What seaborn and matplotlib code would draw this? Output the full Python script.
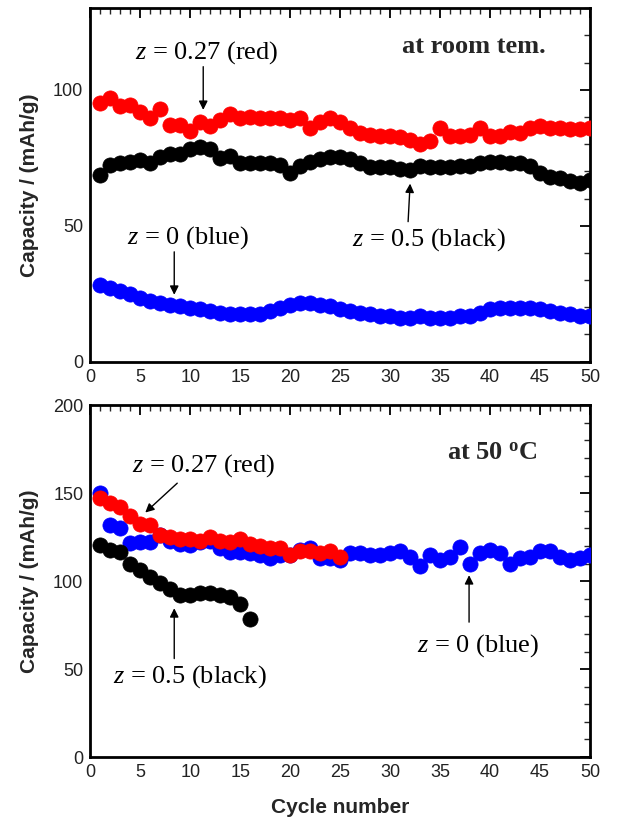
import numpy as np
import pandas as pd
import matplotlib
matplotlib.use("Agg")
import matplotlib.pyplot as plt
import seaborn as sns

# ---------------- data ----------------
cycles_rt = list(range(1, 51))
rt_red = [95, 97, 94, 94.5, 92, 89.5, 93, 87, 87, 85, 88, 86.5, 89, 91, 89.5, 90, 89.5, 89.5, 89.5, 89,
          89.5, 86, 88, 89.5, 88, 86, 84, 83.5, 83, 83, 82.5, 81.5, 80, 81, 86, 83, 83, 83.5, 86, 83,
          83, 84.5, 84, 86, 86.5, 86, 86, 85.5, 85.5, 86]
rt_black = [68.8, 72.3, 72.9, 73.5, 74, 72.9, 75.1, 76.4, 76.4, 78.2, 78.8, 78.2, 75, 75.7, 73, 73, 73, 73, 72.3, 69.3,
            72, 73.5, 74.7, 75.3, 75.3, 74.7, 73, 71.7, 71.7, 71.7, 71, 70.5, 72, 71.7, 71.7, 71.7, 72, 72, 73, 73.5,
            73.5, 73, 73, 72, 69.3, 68, 67.5, 66.3, 65.7, 67]
rt_blue = [28.3, 27.1, 26, 24.8, 23.5, 22.3, 21.5, 21, 20.4, 19.8, 19.2, 18.5, 18, 17.4, 17.4, 17.4, 17.4, 18.5, 19.8, 21,
           21.5, 21.5, 21, 20.4, 19.2, 18.5, 18, 17.4, 16.8, 16.8, 16.2, 16.2, 16.8, 16.2, 16.2, 16.2, 16.8, 16.8, 18, 19.2,
           19.8, 19.8, 19.8, 19.8, 19.2, 18.5, 18, 17.4, 16.8, 16.8]

cycles_hot_blue = list(range(1, 51))
hot_blue = [150, 132, 130, 121.5, 122.3, 122, 126, 123, 121, 120.3, 122, 123, 118.6, 116.7, 116.7, 116, 115, 113, 115, 115,
            117.6, 118.6, 113, 113, 112, 116, 116, 115, 115, 116, 117, 114, 108.5, 115, 112, 114, 119.6, 110, 116, 117.6,
            116, 110, 113, 114, 117, 117, 114, 112, 113, 115]
cycles_hot_red = list(range(1, 26))
hot_red = [147, 144.4, 142, 137, 132.6, 131.8, 126, 125, 124, 124, 123, 125, 123, 122, 124, 121, 120, 119, 118.6, 115,
           117, 117, 116, 117, 114]
cycles_hot_black = list(range(1, 17))
hot_black = [120.4, 117.6, 116.7, 110, 106.4, 102.6, 98.7, 95.8, 92, 92, 93, 93, 92, 91, 87, 78.4]

x_ticks = list(range(0, 51, 5))
y_ticks_rt = [0, 50, 100]
y_ticks_hot = [0, 50, 100, 150, 200]

# ---------------- style ----------------
sns.set_theme(style="white")
plt.rcParams['font.family'] = ['Liberation Sans', 'DejaVu Sans']
plt.rcParams['mathtext.fontset'] = 'custom'
plt.rcParams['mathtext.rm'] = 'Liberation Serif'
plt.rcParams['mathtext.it'] = 'Liberation Serif:italic'
plt.rcParams['mathtext.bf'] = 'Liberation Serif:bold'

fig = plt.figure(figsize=(6.27, 8.22), dpi=100)
ax1 = fig.add_axes([0.144, 0.560, 0.797, 0.430])
ax2 = fig.add_axes([0.144, 0.079, 0.797, 0.428])

RED = '#ff0000'
BLUE = '#0000ff'
BLACK = '#000000'
S = 120


def scat(ax, x, y, c, z):
    df = pd.DataFrame({'x': x, 'y': y})
    sns.scatterplot(data=df, x='x', y='y', ax=ax, color=c, s=S, edgecolor=c, linewidth=0.5, zorder=z, legend=False)


scat(ax1, cycles_rt, rt_blue, BLUE, 3)
scat(ax1, cycles_rt, rt_black, BLACK, 3)
scat(ax1, cycles_rt, rt_red, RED, 3)

scat(ax2, cycles_hot_blue, hot_blue, BLUE, 3)
scat(ax2, cycles_hot_red, hot_red, RED, 4)
scat(ax2, cycles_hot_black, hot_black, BLACK, 5)

for ax, ylim, yt in [(ax1, (0, 130), y_ticks_rt), (ax2, (0, 200), y_ticks_hot)]:
    ax.set_xlim(0, 50)
    ax.set_ylim(*ylim)
    ax.set_xticks(x_ticks)
    ax.set_xticks(range(0, 51), minor=True)
    ax.set_yticks(yt)
    ax.set_yticks(range(0, ylim[1] + 1, 10), minor=True)
    ax.tick_params(which='major', direction='in', length=7, width=1.3, top=True, right=True,
                   labelsize=13, colors='black', pad=5)
    ax.tick_params(which='minor', direction='in', length=4, width=1.0, top=True, right=True)
    for sp in ax.spines.values():
        sp.set_linewidth(2)
        sp.set_color('black')
    ax.set_xlabel('')
    ax.set_ylabel('Capacity / (mAh/g)', fontsize=15, fontweight='bold', labelpad=10)
    for lab in ax.get_xticklabels() + ax.get_yticklabels():
        lab.set_color('#222222')

ax2.set_xlabel('Cycle number', fontsize=15, fontweight='bold', labelpad=12)

serif = dict(family=['Liberation Serif', 'DejaVu Serif'], fontsize=19, color='black', va='center')
bold_serif = dict(family=['Liberation Serif'], fontsize=19, fontweight='bold', va='center')
arrow = dict(arrowstyle='-|>', color='black', lw=1.0, mutation_scale=13, shrinkA=0, shrinkB=0)

# top panel annotations
ax1.text(4.5, 113.6, r'$z$ = 0.27 (red)', **serif)
ax1.annotate('', xy=(11.3, 92.6), xytext=(11.3, 108.5), arrowprops=arrow)
ax1.text(31.2, 115.8, 'at room tem.', **bold_serif)
ax1.text(26.2, 44.9, r'$z$ = 0.5 (black)', **serif)
ax1.annotate('', xy=(32.0, 65.5), xytext=(31.8, 51.5), arrowprops=arrow)
ax1.text(3.7, 45.6, r'$z$ = 0 (blue)', **serif)
ax1.annotate('', xy=(8.4, 24.6), xytext=(8.4, 40.4), arrowprops=arrow)

# bottom panel annotations
ax2.text(35.7, 172.7, r'at 50 $^{\mathbf{o}}$C', **bold_serif)
ax2.text(4.2, 165.9, r'$z$ = 0.27 (red)', **serif)
ax2.annotate('', xy=(5.5, 139), xytext=(8.7, 155.7), arrowprops=arrow)
ax2.text(2.3, 45.5, r'$z$ = 0.5 (black)', **serif)
ax2.annotate('', xy=(8.4, 84.6), xytext=(8.4, 56), arrowprops=arrow)
ax2.text(32.7, 63.6, r'$z$ = 0 (blue)', **serif)
ax2.annotate('', xy=(37.9, 103.4), xytext=(37.9, 76.7), arrowprops=arrow)

fig.savefig('out.png', dpi=100)
